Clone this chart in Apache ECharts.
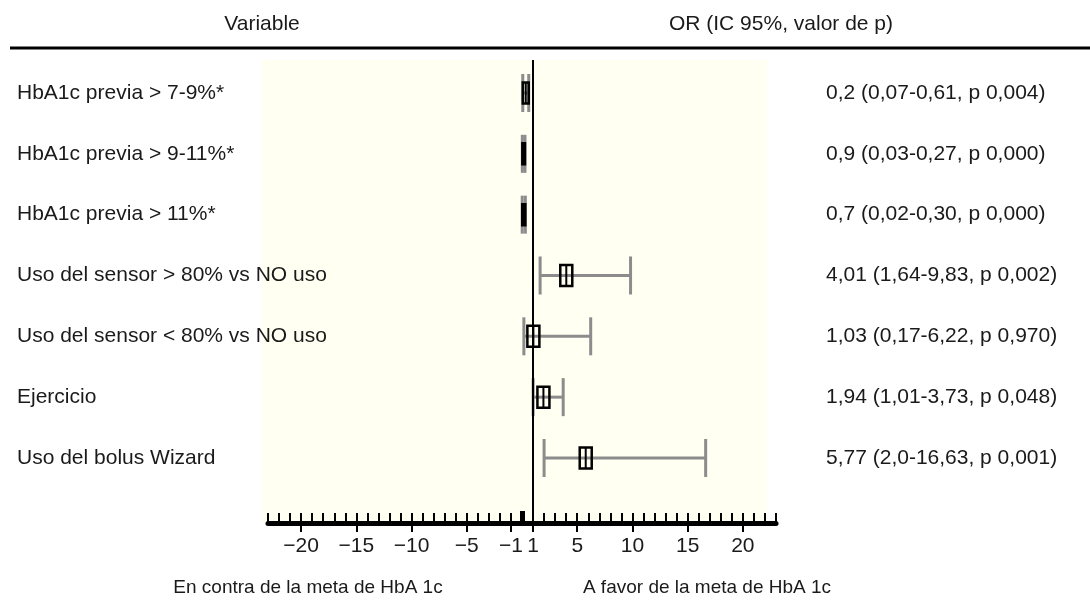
<!DOCTYPE html>
<html>
<head>
<meta charset="utf-8">
<title>OR HbA1c</title>
<script src="https://cdn.jsdelivr.net/npm/echarts@6/dist/echarts.min.js"></script>
<style>
  html, body { margin: 0; padding: 0; background: #ffffff; }
  #chart { width: 1090px; height: 602px; }
</style>
</head>
<body>
<div id="chart"></div>
<script>
// filas, de arriba abajo
var variables = [
  'HbA1c previa > 7-9%*',
  'HbA1c previa > 9-11%*',
  'HbA1c previa > 11%*',
  'Uso del sensor > 80% vs NO uso',
  'Uso del sensor < 80% vs NO uso',
  'Ejercicio',
  'Uso del bolus Wizard'
]
// OR e IC 95% tal como se dibujan
var orValues = [0.2, 0.09, 0.07, 4.01, 1.03, 1.94, 5.77]
var ciLow = [0.07, 0.03, 0.02, 1.64, 0.17, 1.01, 2.0]
var ciHigh = [0.61, 0.27, 0.30, 9.83, 6.22, 3.73, 16.63]
var orLabels = [
  '0,2 (0,07-0,61, p 0,004)',
  '0,9 (0,03-0,27, p 0,000)',
  '0,7 (0,02-0,30, p 0,000)',
  '4,01 (1,64-9,83, p 0,002)',
  '1,03 (0,17-6,22, p 0,970)',
  '1,94 (1,01-3,73, p 0,048)',
  '5,77 (2,0-16,63, p 0,001)'
]
var tickValues = [-20, -15, -10, -5, -1, 1, 5, 10, 15, 20]
var rowIndex = [0, 1, 2, 3, 4, 5, 6]

var FONT = 'Liberation Sans, Arial, Helvetica, sans-serif'
var TEXT = '#1a1a1a'
var SIZE = 21

var chart = echarts.init(document.getElementById('chart'))

function renderRow (params, api) {
  var row = api.value(3)
  var lo = api.coord([api.value(0), row])
  var hi = api.coord([api.value(1), row])
  var pt = api.coord([api.value(2), row])
  var y = lo[1]
  var capH = 19
  var boxH = 21
  var boxW = Math.min(12, hi[0] - lo[0])
  var cx = pt[0]
  // la caja no sale del intervalo
  if (cx - boxW / 2 < lo[0]) cx = lo[0] + boxW / 2
  if (cx + boxW / 2 > hi[0]) cx = hi[0] - boxW / 2
  var grey = { stroke: '#8c8c8c', lineWidth: 3 }
  return {
    type: 'group',
    children: [
      { type: 'line', shape: { x1: lo[0], y1: y, x2: hi[0], y2: y }, style: grey },
      { type: 'line', shape: { x1: lo[0], y1: y - capH, x2: lo[0], y2: y + capH }, style: grey },
      { type: 'line', shape: { x1: hi[0], y1: y - capH, x2: hi[0], y2: y + capH }, style: grey },
      {
        type: 'rect',
        shape: { x: cx - boxW / 2, y: y - boxH / 2, width: boxW, height: boxH },
        style: { fill: 'none', stroke: '#000', lineWidth: 2.5 }
      },
      {
        type: 'line',
        shape: { x1: cx, y1: y - boxH / 2, x2: cx, y2: y + boxH / 2 },
        style: { stroke: '#000', lineWidth: 2 }
      }
    ]
  }
}

var option = {
  animation: false,
  grid: {
    left: 268,
    right: 314,
    top: 60,
    bottom: 79
  },
  xAxis: [
    {
      // ticks pequeños cada unidad
      type: 'value',
      min: -23,
      max: 23,
      interval: 1,
      position: 'bottom',
      axisLine: { show: true, onZero: false, lineStyle: { color: '#000', width: 5 } },
      axisTick: { show: true, inside: true, length: 10, lineStyle: { color: '#000', width: 2 } },
      axisLabel: { show: false },
      splitLine: { show: false }
    },
    {
      // ticks grandes y etiquetas
      type: 'value',
      min: -23,
      max: 23,
      position: 'bottom',
      axisLine: { show: false, onZero: false },
      axisTick: { show: true, customValues: tickValues, length: 9, lineStyle: { color: '#000', width: 2 } },
      axisLabel: {
        customValues: tickValues,
        margin: 13,
        fontSize: SIZE,
        color: TEXT,
        fontFamily: FONT,
        formatter: function (v) {
          return v < 0 ? '\u2212' + Math.abs(v) : String(v)
        }
      },
      splitLine: { show: false }
    },
    {
      // marca gruesa en el cero
      type: 'value',
      min: -23,
      max: 23,
      position: 'bottom',
      axisLine: { show: false, onZero: false },
      axisTick: { show: true, customValues: [0], inside: true, length: 12, lineStyle: { color: '#000', width: 5 } },
      axisLabel: { show: false },
      splitLine: { show: false }
    }
  ],
  yAxis: [
    {
      type: 'value',
      min: -0.5425,
      max: 7.069,
      inverse: true,
      position: 'left',
      axisLine: { show: false, onZero: false },
      axisTick: { show: false },
      splitLine: { show: false },
      axisLabel: {
        customValues: rowIndex,
        align: 'left',
        margin: 251,
        fontSize: SIZE,
        color: TEXT,
        fontFamily: FONT,
        formatter: function (v) { return variables[Math.round(v)] }
      }
    },
    {
      type: 'value',
      min: -0.5425,
      max: 7.069,
      inverse: true,
      position: 'right',
      axisLine: { show: false, onZero: false },
      axisTick: { show: false },
      splitLine: { show: false },
      axisLabel: {
        customValues: rowIndex,
        align: 'left',
        margin: 50,
        padding: [6, 0, 0, 0],
        fontSize: SIZE,
        color: TEXT,
        fontFamily: FONT,
        formatter: function (v) { return orLabels[Math.round(v)] }
      }
    }
  ],
  graphic: [
    {
      // fondo del panel
      type: 'rect',
      z: -10,
      shape: { x: 262, y: 60, width: 505, height: 463 },
      style: { fill: '#fffff2' }
    },
    {
      type: 'text',
      x: 262,
      y: 24,
      style: { text: 'Variable', align: 'center', verticalAlign: 'middle', fontSize: SIZE, fontFamily: FONT, fill: TEXT }
    },
    {
      type: 'text',
      x: 781,
      y: 24,
      style: { text: 'OR (IC 95%, valor de p)', align: 'center', verticalAlign: 'middle', fontSize: SIZE, fontFamily: FONT, fill: TEXT }
    },
    {
      type: 'line',
      shape: { x1: 10, y1: 48, x2: 1090, y2: 48 },
      style: { stroke: '#000', lineWidth: 3 }
    },
    {
      type: 'text',
      x: 308,
      y: 588,
      style: { text: 'En contra de la meta de HbA 1c', align: 'center', verticalAlign: 'middle', fontSize: 19, fontFamily: FONT, fill: TEXT }
    },
    {
      type: 'text',
      x: 707,
      y: 588,
      style: { text: 'A favor de la meta de HbA 1c', align: 'center', verticalAlign: 'middle', fontSize: 19, fontFamily: FONT, fill: TEXT }
    }
  ],
  series: [
    {
      type: 'custom',
      xAxisIndex: 0,
      yAxisIndex: 0,
      renderItem: renderRow,
      encode: { x: [0, 1, 2], y: 3 },
      data: rowIndex.map(function (i) {
        return [ciLow[i], ciHigh[i], orValues[i], i]
      }),
      markLine: {
        silent: true,
        symbol: 'none',
        label: { show: false },
        lineStyle: { color: '#000', width: 2, type: 'solid' },
        data: [{ xAxis: 1 }]
      }
    }
  ]
}

chart.setOption(option)
</script>
</body>
</html>
